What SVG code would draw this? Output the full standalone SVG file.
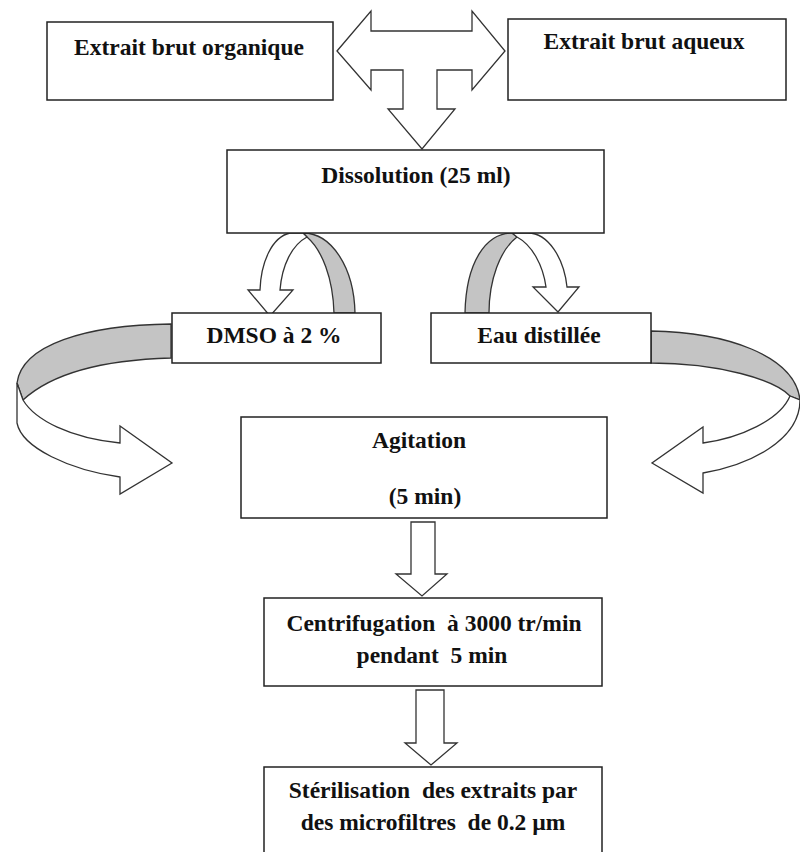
<svg xmlns="http://www.w3.org/2000/svg" width="800" height="852" viewBox="0 0 800 852">
<style>
.box{fill:#fff;stroke:#222;stroke-width:1.5}
.arr{fill:#fff;stroke:#333;stroke-width:1.3;stroke-linejoin:miter}
.back{fill:#c4c4c4;stroke:#333;stroke-width:1.3}
text{font-family:'Liberation Serif','DejaVu Serif',serif;font-weight:bold;font-size:23.5px;fill:#111;text-anchor:middle}
</style>
<rect width="800" height="852" fill="#fff"/>
<g id="connectors">
<path class="arr" d="M337,51 L371,11 L371,31 L472,31 L472,11 L505,51 L472,90 L472,70 L437,70 L437,109 L455,109 L422,149 L388,109 L403,109 L403,70 L371,70 L371,90 Z"/>
<path class="back" d="M303,233 C332,233 354,268 355,313 L334,313 C333,278 322,250 307,237 Z"/>
<path class="arr" d="M290,233 C272,237 261,262 260,290 L248,290 L270,316 L293,290 L280,290 C282,265 292,245 307,237 L303,233 Z"/>
<path class="back" d="M465,313 C466,262 486,233 512,233 L517,237 C500,250 489,280 489,313 Z"/>
<path class="arr" d="M512,233 L528,233 C548,233 564,258 567,287 L579,287 L558,312 L533,287 L546,287 C543,265 532,245 517,237 Z"/>
<path class="back" d="M171,324 C85,325 22,345 17,383 L23,400 C50,375 100,360 171,358 Z"/>
<path class="arr" d="M17,383 L17,423 C22,448 70,470 120,477 L120,494 L172,463 L120,426 L120,443 C70,438 35,420 23,400 Z"/>
<path class="back" d="M651,331 C725,332 795,355 800,400 L790,396 C775,380 720,363 651,363 Z"/>
<path class="arr" d="M800,400 C800,440 750,465 703,473 L703,493 L652,463 L703,427 L703,443 C740,438 780,420 790,396 Z"/>
<path class="arr" d="M411,522 L435,522 L435,574 L447,574 L422,596 L396,574 L411,574 Z"/>
<path class="arr" d="M416,690 L444,690 L444,743 L457,743 L431,765 L405,743 L416,743 Z"/>
</g>
<g id="organique">
<rect class="box" x="47" y="22" width="286" height="78"/>
<text x="189" y="55" font-family="Liberation Serif, serif">Extrait brut organique</text>
</g>
<g id="aqueux">
<rect class="box" x="508" y="19" width="278" height="81"/>
<text x="644" y="49" font-family="Liberation Serif, serif">Extrait brut aqueux</text>
</g>
<g id="dissolution">
<rect class="box" x="227" y="150" width="377" height="83"/>
<text x="416" y="183" font-family="Liberation Serif, serif">Dissolution (25 ml)</text>
</g>
<g id="dmso">
<rect class="box" x="172" y="313" width="209" height="50"/>
<text x="274" y="343" font-family="Liberation Serif, serif">DMSO à 2 %</text>
</g>
<g id="eau">
<rect class="box" x="431" y="313" width="220" height="50"/>
<text x="539" y="343" font-family="Liberation Serif, serif">Eau distillée</text>
</g>
<g id="agitation">
<rect class="box" x="241" y="417" width="366" height="101"/>
<text x="419" y="448" font-family="Liberation Serif, serif">Agitation</text>
<text x="425" y="504" font-family="Liberation Serif, serif">(5 min)</text>
</g>
<g id="centrifugation">
<rect class="box" x="264" y="598" width="338" height="88"/>
<text x="434" y="631" xml:space="preserve" font-family="Liberation Serif, serif">Centrifugation  à 3000 tr/min</text>
<text x="432" y="663" xml:space="preserve" font-family="Liberation Serif, serif">pendant  5 min</text>
</g>
<g id="sterilisation">
<rect class="box" x="264" y="767" width="338" height="95"/>
<text x="433" y="798" xml:space="preserve" font-family="Liberation Serif, serif">Stérilisation  des extraits par</text>
<text x="433" y="830" xml:space="preserve" font-family="Liberation Serif, serif">des microfiltres  de 0.2 µm</text>
</g>
</svg>
